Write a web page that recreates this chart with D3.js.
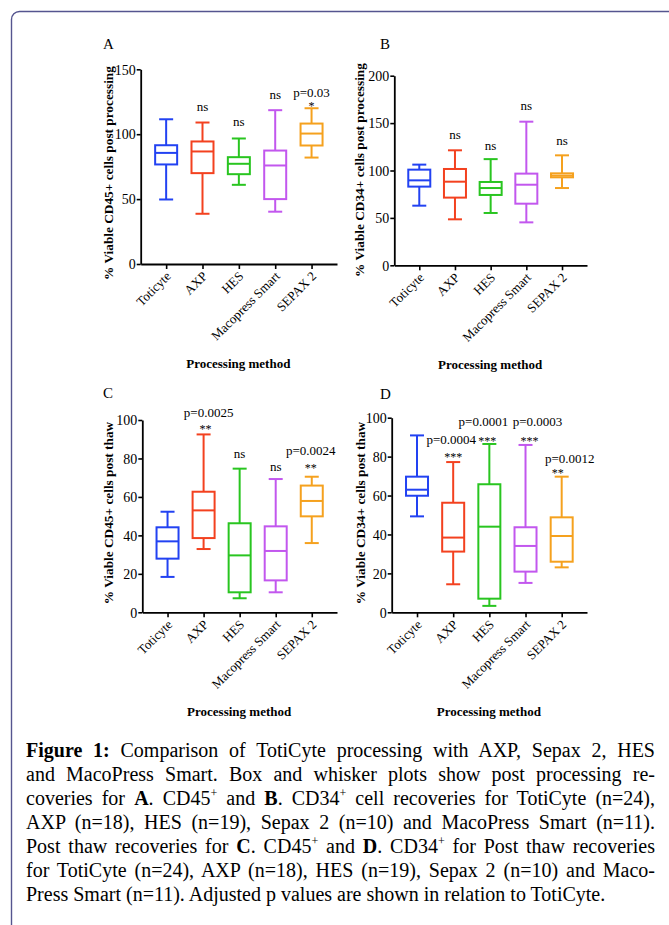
<!DOCTYPE html>
<html>
<head>
<meta charset="utf-8">
<script src="https://cdn.jsdelivr.net/npm/d3@7"></script>
<style>
  body { margin: 0; background: #fff; }
  svg { display: block; font-family: "Liberation Serif", "Times New Roman", serif; }
  svg text { font-family: "Liberation Serif", "Times New Roman", serif; }
</style>
</head>
<body>
<script>
// categories and colours
const methods = ["Toticyte", "AXP", "HES", "Macopress Smart", "SEPAX 2"]
const colors  = ["#2242f2", "#f3411f", "#29c520", "#c257ee", "#f5a11e"]

// box stats per method: [whisker low, Q1, median, Q3, whisker high]
const cd45Post = [[49.7, 76.7, 85.6, 91.5, 111.5], [38.7, 70, 86.7, 94.4, 109], [61, 69.2, 77.2, 82.3, 96.7], [40.3, 50, 75.9, 87.4, 118.5], [82, 91.3, 100.5, 108.2, 120]]
const cd34Post = [[62.9, 83, 89.6, 100.9, 106.2], [48.5, 71.4, 88.2, 101.6, 121.3], [55.2, 74.2, 81.5, 87.9, 112], [45.3, 65, 85, 96.7, 151.5], [81.5, 92.8, 94.6, 97, 116]]
const cd45Thaw = [[18.4, 27.9, 36.9, 44.2, 52.3], [32.9, 38.6, 53, 62.7, 92.5], [7.3, 10.4, 29.6, 46.3, 74.7], [10.4, 16.6, 31.9, 44.7, 69.3], [36, 49.9, 57.9, 65.9, 70.5]]
const cd34Thaw = [[49.3, 59.9, 63, 69.7, 90.9], [14.4, 31.2, 38.4, 56.3, 77.2], [3.3, 7, 44, 65.8, 86.5], [15.1, 20.9, 34.1, 43.7, 86], [23.1, 26, 39.2, 48.8, 69.7]]

// y tick labels
const ticksA = [0, 50, 100, 150]
const ticksB = [0, 50, 100, 150, 200]
const ticksC = [0, 20, 40, 60, 80, 100]
const ticksD = [0, 20, 40, 60, 80, 100]

// significance labels and the value level they sit at
const pA = ["", "", "", "", "p=0.03"]
const pLevelA = [0, 0, 0, 0, 128.5]
const sigA = ["", "ns", "ns", "ns", "*"]
const sigLevelA = [0, 118, 106, 127, 118.5]

const pB = ["", "", "", "", ""]
const pLevelB = [0, 0, 0, 0, 0]
const sigB = ["", "ns", "ns", "ns", "ns"]
const sigLevelB = [0, 133, 122, 163.5, 127]

const pC = ["", "p=0.0025", "", "", "p=0.0024"]
const pLevelC = [0, 101.5, 0, 0, 82]
const sigC = ["", "**", "ns", "ns", "**"]
const sigLevelC = [0, 93, 80.2, 73.5, 72.8]

const pD = ["", "p=0.0004", "p=0.0001", "p=0.0003", "p=0.0012"]
const pLevelD = [0, 86.4, 95.5, 95.5, 76.8]
const sigD = ["", "***", "***", "***", "**"]
const sigLevelD = [0, 77.6, 86.2, 86.2, 69.6]

const W = 669, H = 925

const svg = d3.select("body").append("svg")
    .attr("width", W)
    .attr("height", H)

// frame round the figure
svg.append("rect")
    .attr("x", 11.5).attr("y", 11.5)
    .attr("width", 720).attr("height", 960)
    .attr("rx", 8)
    .style("fill", "none")
    .style("stroke", "#55558f")
    .style("stroke-width", 1.4)

const panels = [
    {letter: "A", data: cd45Post, max: 150, ticks: ticksA, title: "% Viable CD45+ cells post processing",
     p: pA, pLv: pLevelA, sig: sigA, sigLv: sigLevelA,
     x0: 140.7, x1: 337, yTop: 69.3, yBot: 264, lx: 103, ly: 48.5, tx: 112.5, ty: 173,
     pdx: [0, 0, 0, 0, 0], sdx: [0, 0, 0, 0, 0]},
    {letter: "B", data: cd34Post, max: 200, ticks: ticksB, title: "% Viable CD34+ cells post processing",
     p: pB, pLv: pLevelB, sig: sigB, sigLv: sigLevelB,
     x0: 394.3, x1: 587, yTop: 75.7, yBot: 265.3, lx: 380, ly: 49, tx: 363.5, ty: 170,
     pdx: [0, 0, 0, 0, 0], sdx: [0, 0, 0, 0, 0]},
    {letter: "C", data: cd45Thaw, max: 100, ticks: ticksC, title: "% Viable CD45+ cells post thaw",
     p: pC, pLv: pLevelC, sig: sigC, sigLv: sigLevelC,
     x0: 142.3, x1: 337, yTop: 420, yBot: 612.3, lx: 103, ly: 398, tx: 112.5, ty: 513,
     pdx: [0, 5, 0, 0, -1], sdx: [0, 2, 0, 0, -1]},
    {letter: "D", data: cd34Thaw, max: 100, ticks: ticksD, title: "% Viable CD34+ cells post thaw",
     p: pD, pLv: pLevelD, sig: sigD, sigLv: sigLevelD,
     x0: 391.7, x1: 587, yTop: 417.7, yBot: 612.3, lx: 380, ly: 399, tx: 364.5, ty: 513,
     pdx: [0, -2, -6, 12, 8], sdx: [0, 0, -2, 4, -4]}
]

const boxW = 22, capW = 14

panels.forEach(function(pn){
    let g = svg.append("g")

    let x = d3.scalePoint()
        .domain(methods)
        .range([pn.x0, pn.x1])
        .padding(0.7)
    let y = d3.scaleLinear()
        .domain([0, pn.max])
        .range([pn.yBot, pn.yTop])

    // y axis
    let ya = g.append("g")
        .attr("transform", "translate(" + pn.x0 + ",0)")
        .call(d3.axisLeft(y).tickValues(pn.ticks).tickSize(4).tickSizeOuter(0).tickPadding(1))
    ya.attr("font-family", null).attr("font-size", null)
    ya.selectAll("text")
        .style("font-family", "'Liberation Serif', serif")
        .style("font-size", "14px")
        .attr("dy", "0.34em")

    // x axis
    let xa = g.append("g")
        .attr("transform", "translate(0," + pn.yBot + ")")
        .call(d3.axisBottom(x).tickSize(5).tickSizeOuter(0))
    xa.attr("font-family", null).attr("font-size", null)
    xa.selectAll("text")
        .style("font-family", "'Liberation Serif', serif")
        .style("font-size", "13px")
        .style("text-anchor", "end")
        .attr("dy", null)
        .attr("y", 0)
        .attr("transform", "translate(5,13) rotate(-45)")

    g.selectAll(".domain").style("stroke", "#000").style("stroke-width", 1.8)
    g.selectAll(".tick line").style("stroke", "#000").style("stroke-width", 1.6)

    // boxes
    let b = g.selectAll(".box").data(pn.data).enter().append("g")
        .attr("transform", (d, i) => "translate(" + x(methods[i]) + ",0)")
        .style("stroke", (d, i) => colors[i])
        .style("stroke-width", 2)
        .style("fill", "none")

    b.append("line").attr("x1", 0).attr("x2", 0).attr("y1", d => y(d[3])).attr("y2", d => y(d[4]))
    b.append("line").attr("x1", 0).attr("x2", 0).attr("y1", d => y(d[1])).attr("y2", d => y(d[0]))
    b.append("line").attr("x1", -capW / 2).attr("x2", capW / 2).attr("y1", d => y(d[4])).attr("y2", d => y(d[4]))
    b.append("line").attr("x1", -capW / 2).attr("x2", capW / 2).attr("y1", d => y(d[0])).attr("y2", d => y(d[0]))
    b.append("rect")
        .attr("x", -boxW / 2).attr("width", boxW)
        .attr("y", d => y(d[3]))
        .attr("height", d => y(d[1]) - y(d[3]))
    b.append("line").attr("x1", -boxW / 2).attr("x2", boxW / 2).attr("y1", d => y(d[2])).attr("y2", d => y(d[2]))

    // p values
    pn.p.forEach(function(s, i){
        if (s === "") return
        g.append("text")
            .attr("x", x(methods[i]) + pn.pdx[i])
            .attr("y", y(pn.pLv[i]))
            .style("text-anchor", "middle")
            .style("font-size", "13px")
            .text(s)
    })

    // ns / stars
    pn.sig.forEach(function(s, i){
        if (s === "") return
        g.append("text")
            .attr("x", x(methods[i]) + pn.sdx[i])
            .attr("y", y(pn.sigLv[i]))
            .style("text-anchor", "middle")
            .style("font-size", s === "ns" ? "13px" : "12px")
            .text(s)
    })

    // panel letter
    g.append("text")
        .attr("x", pn.lx).attr("y", pn.ly)
        .style("font-size", "15px")
        .text(pn.letter)

    // y title
    g.append("text")
        .attr("transform", "translate(" + pn.tx + "," + pn.ty + ") rotate(-90)")
        .style("text-anchor", "middle")
        .style("font-size", "13.3px")
        .style("font-weight", "bold")
        .text(pn.title)

    // x title
    g.append("text")
        .attr("x", (pn.x0 + pn.x1) / 2 - 0.5)
        .attr("y", pn.yBot + 103.5)
        .style("text-anchor", "middle")
        .style("font-size", "13px")
        .style("font-weight", "bold")
        .text("Processing method")
})

// caption, justified line by line
const captionLines = [
    [["b", "Figure 1:"], ["", " Comparison of TotiCyte processing with AXP, Sepax 2, HES"]],
    [["", "and MacoPress Smart. Box and whisker plots show post processing re-"]],
    [["", "coveries for "], ["b", "A"], ["", ". CD45"], ["s", "+"], ["", " and "], ["b", "B"], ["", ". CD34"], ["s", "+"], ["", " cell recoveries for TotiCyte (n=24),"]],
    [["", "AXP (n=18), HES (n=19), Sepax 2 (n=10) and MacoPress Smart (n=11)."]],
    [["", "Post thaw recoveries for "], ["b", "C"], ["", ". CD45"], ["s", "+"], ["", " and "], ["b", "D"], ["", ". CD34"], ["s", "+"], ["", " for Post thaw recoveries"]],
    [["", "for TotiCyte (n=24), AXP (n=18), HES (n=19), Sepax 2 (n=10) and Maco-"]],
    [["", "Press Smart (n=11). Adjusted p values are shown in relation to TotiCyte."]]
]

const capX = 26, capW2 = 629, capY = 757, capLH = 24

captionLines.forEach(function(line, li){
    let t = svg.append("text")
        .attr("x", capX)
        .attr("y", capY + li * capLH)
        .style("font-size", "20px")
        .style("white-space", "pre")
    let prevSup = false
    line.forEach(function(seg){
        let ts = t.append("tspan").text(seg[1])
        if (seg[0] === "b") ts.style("font-weight", "bold")
        if (seg[0] === "s") {
            ts.style("font-size", "12px").attr("dy", -8)
            prevSup = true
        } else if (prevSup) {
            ts.attr("dy", 8)
            prevSup = false
        }
    })
    if (li < captionLines.length - 1) {
        let full = line.map(s => s[1]).join("")
        let spaces = (full.match(/ /g) || []).length
        let natural = t.node().getComputedTextLength()
        t.style("word-spacing", ((capW2 - natural) / spaces) + "px")
    }
})
</script>
</body>
</html>
